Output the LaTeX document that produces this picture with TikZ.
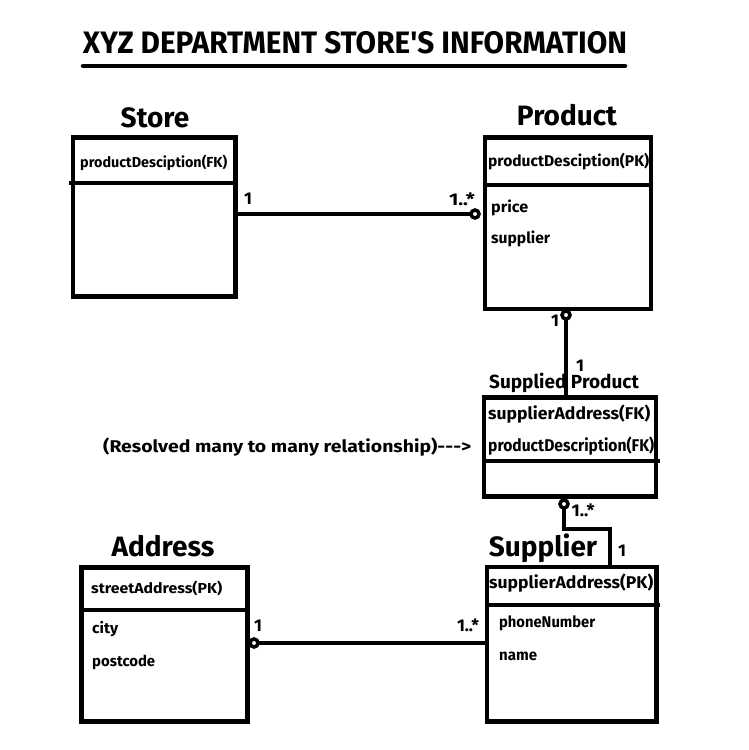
\documentclass[tikz,border=0pt]{standalone}
\usepackage{graphicx}
\usepackage{fontspec}
\setmainfont{Fira Sans}[Ligatures=TeXOff]
% set a text at its font's height, stretched to a given width
\newcommand{\fitw}[2]{\resizebox{#1}{\height}{#2}}
\begin{document}
\begin{tikzpicture}[x=1pt,y=-1pt,
  entity/.style={draw, line width=4.5pt, rectangle, inner sep=0pt},
  wire/.style={line width=4.5pt},
  attr/.style={anchor=base west, inner sep=0pt, font=\bfseries\fontsize{#1}{#1}\selectfont},
  attr/.default=15,
  mult/.style={anchor=center, inner sep=0pt, font=\bfseries\fontsize{17}{19}\selectfont},
  ename/.style={anchor=center, inner sep=0pt, font=\bfseries\fontsize{28}{30}\selectfont},
  endpt/.style={circle, draw, fill=white, line width=3.5pt, minimum size=8pt, inner sep=0pt}]
\useasboundingbox (0,0) rectangle (749,750);
\fill[white] (0,0) rectangle (749,750);

% heading
\node[anchor=center, inner sep=0pt, font=\bfseries\fontsize{31}{34}\selectfont] (title) at (355,43) {\fitw{544pt}{XYZ DEPARTMENT STORE'S INFORMATION}};
\draw[line width=4.5pt, line cap=round] (83,66) -- (625,66);

% entity boxes
\node[entity, minimum width=162.5pt, minimum height=159pt] (store) at (154.25,217) {};
\node[entity, minimum width=166pt, minimum height=171.5pt] (product) at (568,223.25) {};
\node[entity, minimum width=172pt, minimum height=99pt] (sp) at (570,447) {};
\node[entity, minimum width=169.5pt, minimum height=154.5pt] (sup) at (571.75,644.25) {};
\node[entity, minimum width=166pt, minimum height=154pt] (addr) at (164.5,644.5) {};

% compartment dividers
\draw[wire] (69,183) -- (store.east |- 0,183);
\draw[wire] (product.west |- 0,185) -- (product.east |- 0,185);
\draw[wire] (sp.west |- 0,461) -- (660,461);
\draw[wire] (sup.west |- 0,605) -- (660,605);
\draw[wire] (addr.west |- 0,610) -- (addr.east |- 0,610);

% entity names
\node[ename] (storeN) at (155,118) {Store};
\node[ename] (productN) at (567,115) {Product};
\node[ename, font=\bfseries\fontsize{19}{21}\selectfont] (spN) at (564,383) {Supplied Product};
\node[ename] (addrN) at (163,546) {Address};
\node[ename] (supN) at (543,548) {Supplier};

% attributes
\node[attr=14.5] (a1) at (80,167) {\fitw{147pt}{productDesciption(FK)}};
\node[attr=15.5] (a2) at (488,166) {\fitw{161pt}{productDesciption(PK)}};
\node[attr=15.5] (a3) at (491,212) {\fitw{37pt}{price}};
\node[attr=15.5] (a4) at (491,243) {\fitw{59pt}{supplier}};
\node[attr=17] (a5) at (488,419) {\fitw{162pt}{supplierAddress(FK)}};
\node[attr=17] (a6) at (488,451) {\fitw{166pt}{productDescription(FK)}};
\node[attr=17] (a7) at (489,588) {\fitw{164pt}{supplierAddress(PK)}};
\node[attr=15.5] (a8) at (499,627) {\fitw{96pt}{phoneNumber}};
\node[attr=15.5] (a9) at (499,660) {\fitw{38pt}{name}};
\node[attr=14.5] (a10) at (91,593) {\fitw{131pt}{streetAddress(PK)}};
\node[attr=15] (a11) at (92,633) {\fitw{26pt}{city}};
\node[attr=15] (a12) at (92,666.5) {\fitw{63pt}{postcode}};

% note
\node[attr=17] (note) at (103,452) {\fitw{368pt}{(Resolved many to many relationship)--->}};

% relationships
\coordinate (pe1) at (475,214);
\draw[wire] (store.east |- pe1) -- (pe1);
\node[endpt] (pe1c) at (pe1) {};

\coordinate (pp) at (566,315);
\draw[wire] (pp) -- (pp |- sp.north);
\node[endpt] (ppc) at (pp) {};

\coordinate (ss) at (564,504);
\coordinate (bend) at (610,529);
\draw[wire] (ss) |- (bend) -- (bend |- sup.north);
\node[endpt] (ssc) at (ss) {};

\coordinate (as) at (254,643);
\draw[wire] (as) -- (as -| sup.west);
\node[endpt] (asc) at (as) {};

% multiplicities
\node[mult] (m1) at (248,199) {1};
\node[mult] (m2) at (462,199.5) {\fitw{26pt}{1..*}};
\node[mult] (m3) at (555,321) {1};
\node[mult] (m4) at (580,366) {1};
\node[mult] (m5) at (583,510) {\fitw{23pt}{1..*}};
\node[mult] (m6) at (622,551) {1};
\node[mult] (m7) at (258,626) {1};
\node[mult] (m8) at (468,625) {\fitw{22pt}{1..*}};
\end{tikzpicture}
\end{document}
